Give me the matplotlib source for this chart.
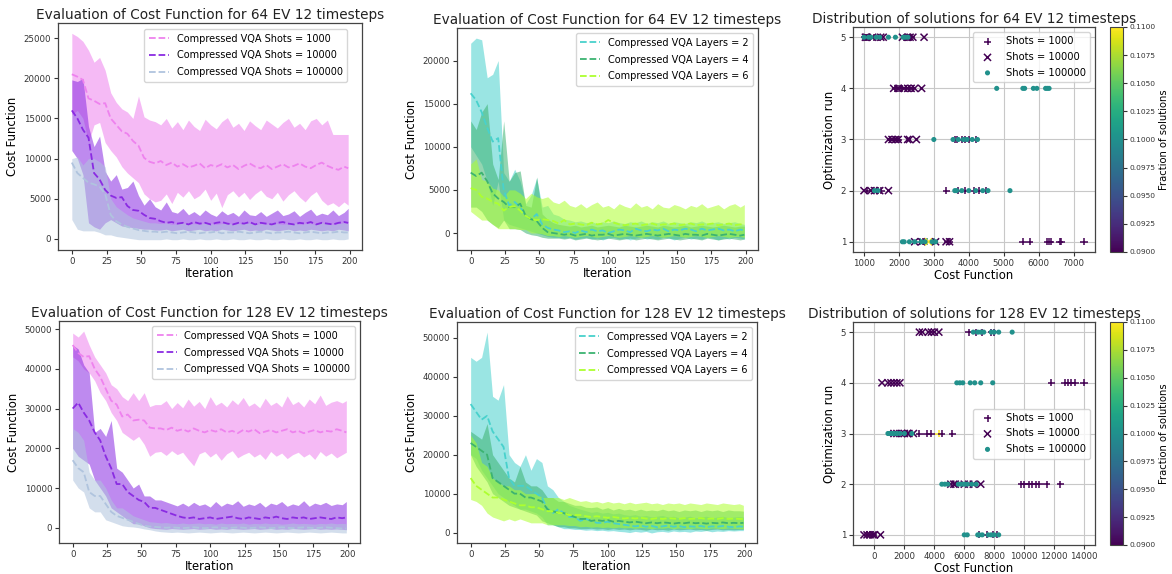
import numpy as np
import matplotlib.pyplot as plt
from matplotlib.ticker import MultipleLocator, FormatStrFormatter

W, H = 1172, 574

# iteration positions (read every 4th iteration off the plots)
iterations = list(range(0, 197, 4)) + [199]

# ---- 64 EV, shots (values in thousands) ----
ev64_s1000_mean = [20.5, 20.2, 19.8, 17.5, 17.2, 16.8, 16.9, 15.0, 14.2, 13.4, 13.1, 12.2, 11.6, 10.1, 9.6, 9.4,
                   9.7, 9.2, 9.5, 9.0, 9.3, 8.9, 9.1, 9.4, 8.8, 9.2, 9.0, 9.3, 8.9, 9.2, 8.7, 9.1, 9.4, 9.0, 8.8,
                   9.2, 8.7, 9.0, 9.3, 8.9, 9.1, 9.4, 9.0, 8.8, 9.2, 9.5, 9.1, 8.8, 8.6, 9.0, 8.8]
ev64_s1000_hi = [25.6, 25.2, 24.6, 23.5, 22.0, 22.6, 21.0, 18.2, 17.0, 16.2, 15.8, 15.0, 17.8, 15.2, 14.8, 14.6,
                 14.2, 15.0, 13.8, 14.6, 13.6, 14.8, 14.0, 13.5, 14.9, 14.2, 13.7, 14.6, 15.1, 13.9, 14.4, 13.5,
                 14.7, 14.1, 13.6, 14.8, 14.3, 13.8, 14.5, 15.0, 13.9, 14.4, 13.6, 14.7, 15.0, 14.2, 14.8, 13.0,
                 13.0, 13.0, 13.0]
ev64_s1000_lo = [15.5, 16.0, 15.0, 12.0, 14.2, 14.5, 12.0, 11.0, 10.2, 9.0, 8.2, 7.6, 7.0, 5.6, 5.0, 4.6,
                 4.8, 5.6, 4.4, 5.8, 5.2, 6.0, 5.0, 5.4, 6.2, 4.8, 5.7, 3.9, 5.5, 6.0, 5.2, 5.8, 4.9, 5.6, 6.1,
                 5.3, 5.0, 5.8, 4.7, 5.5, 6.0, 5.2, 4.6, 5.4, 5.9, 4.8, 4.2, 4.5, 4.0, 4.6, 4.2]
ev64_s10000_mean = [16.0, 15.0, 13.6, 12.6, 8.2, 7.4, 6.1, 5.4, 5.1, 5.2, 4.1, 3.6, 3.5, 3.0, 2.6, 2.5,
                    2.2, 2.0, 2.1, 1.9, 2.0, 1.8, 2.1, 1.9, 2.0, 1.8, 2.0, 2.1, 1.9, 1.8, 2.0, 1.9, 2.1, 1.8, 2.0,
                    1.9, 1.8, 2.0, 2.1, 1.9, 1.8, 2.0, 1.9, 2.1, 1.8, 2.0, 1.9, 1.8, 2.0, 2.1, 2.0]
ev64_s10000_hi = [19.8, 19.6, 20.0, 14.0, 11.5, 12.8, 8.4, 7.2, 8.0, 6.2, 6.4, 7.2, 5.4, 4.2, 5.0, 4.0,
                  3.6, 4.6, 3.4, 3.2, 3.8, 3.0, 3.4, 2.9, 3.6, 3.1, 2.8, 3.5, 3.0, 3.3, 2.8, 3.6, 3.0, 2.9, 3.4,
                  2.8, 3.2, 3.6, 2.9, 3.1, 3.5, 2.8, 3.3, 3.7, 2.9, 3.2, 3.0, 3.6, 2.9, 3.3, 3.8]
ev64_s10000_lo = [11.0, 10.0, 8.0, 2.0, 1.5, 1.2, 2.0, 2.4, 2.0, 1.6, 1.5, 1.4, 1.3, 1.2, 1.2, 1.1,
                  1.1, 1.2, 1.0, 1.1, 1.2, 1.0, 1.1, 1.2, 1.0, 1.1, 1.0, 1.2, 1.1, 1.0, 1.1, 1.2, 1.0, 1.1, 1.0,
                  1.2, 1.1, 1.0, 1.1, 1.2, 1.0, 1.1, 1.0, 1.2, 1.1, 1.0, 1.1, 1.0, 1.2, 1.1, 1.0]
ev64_s100000_mean = [9.5, 8.2, 7.6, 7.0, 6.8, 6.5, 5.6, 3.0, 2.2, 1.8, 1.5, 1.3, 1.1, 1.0, 0.9, 0.9,
                     0.8, 0.9, 0.8, 0.7, 0.8, 0.9, 0.8, 0.7, 0.8, 0.8, 0.9, 0.7, 0.8, 0.8, 0.9, 0.8, 0.7, 0.8,
                     0.9, 0.8, 0.7, 0.8, 0.8, 0.9, 0.8, 0.7, 0.8, 0.9, 0.8, 0.7, 0.8, 0.8, 0.9, 0.8, 0.8]
ev64_s100000_hi = [10.0, 10.2, 9.2, 10.0, 10.0, 9.6, 9.0, 5.0, 4.0, 3.5, 3.0, 2.6, 2.4, 2.2, 2.0, 2.0,
                   1.9, 2.0, 1.8, 1.9, 2.0, 1.8, 1.9, 1.8, 2.0, 1.9, 1.8, 1.9, 2.0, 1.8, 1.9, 1.9, 2.0, 1.8,
                   1.9, 1.8, 2.0, 1.9, 1.8, 1.9, 2.0, 1.8, 1.9, 1.9, 1.8, 2.0, 1.9, 1.8, 1.9, 2.0, 1.9]
ev64_s100000_lo = [2.4, 1.2, 1.0, 1.0, 1.0, 0.8, 0.5, 0.5, 0.3, 0.2, 0.1, 0.0, -0.1, -0.1, -0.1, -0.1,
                   -0.1, 0.0, -0.1, -0.1, 0.0, -0.1, -0.1, 0.0, -0.1, -0.1, 0.0, -0.1, -0.1, 0.0, -0.1, -0.1,
                   0.0, -0.1, -0.1, 0.0, -0.1, -0.1, 0.0, -0.1, -0.1, 0.0, -0.1, -0.1, 0.0, -0.1, -0.1, 0.0,
                   -0.1, -0.1, 0.0]

# ---- 64 EV, layers ----
ev64_l2_mean = [16.2, 15.4, 14.0, 12.2, 10.6, 11.0, 5.0, 3.2, 3.6, 3.0, 2.0, 1.6, 2.2, 1.0, 0.6, 0.4,
                0.3, 0.1, 0.2, 0.0, 0.3, 0.1, 0.4, 0.2, 0.3, 0.0, 0.2, 0.4, 0.3, 0.1, 0.5, 0.3, 0.2, 0.4, 0.3,
                0.5, 0.2, 0.4, 0.3, 0.5, 0.4, 0.2, 0.5, 0.3, 0.4, 0.5, 0.3, 0.4, 0.2, 0.4, 0.3]
ev64_l2_hi = [22.0, 22.6, 22.4, 18.0, 18.4, 20.0, 7.0, 6.0, 7.4, 6.0, 3.4, 4.4, 6.4, 3.0, 3.2, 2.2,
              2.0, 1.6, 1.5, 1.3, 1.4, 1.2, 1.3, 1.1, 1.3, 1.2, 1.4, 1.2, 1.1, 1.3, 1.2, 1.4, 1.1, 1.3, 1.2,
              1.4, 1.1, 1.3, 1.2, 1.1, 1.3, 1.2, 1.4, 1.1, 1.2, 1.3, 1.1, 1.2, 1.3, 1.1, 1.0]
ev64_l2_lo = [10.0, 9.0, 8.0, 6.0, 3.2, 6.0, 1.5, 1.0, 0.8, 0.6, 0.4, 0.2, 0.0, -0.2, -0.4, -0.5,
              -0.5, -0.6, -0.5, -0.7, -0.6, -0.5, -0.7, -0.6, -0.8, -0.6, -0.5, -0.7, -0.6, -0.8, -0.6, -0.5,
              -0.7, -0.6, -0.7, -0.5, -0.6, -0.8, -0.6, -0.5, -0.7, -0.6, -0.7, -0.5, -0.6, -0.8, -0.6, -0.7,
              -0.5, -0.6, -0.7]
ev64_l4_mean = [7.0, 6.6, 7.0, 6.0, 4.6, 4.0, 3.6, 3.0, 3.0, 3.4, 2.0, 1.6, 1.4, 0.6, 0.1, 0.0,
                -0.1, -0.2, -0.1, -0.3, -0.2, -0.1, -0.3, -0.2, -0.2, -0.1, -0.3, -0.2, -0.1, -0.2, -0.3,
                -0.2, -0.1, -0.2, -0.3, -0.2, -0.1, -0.2, -0.3, -0.1, -0.2, -0.2, -0.3, -0.1, -0.2, -0.3,
                -0.2, -0.1, -0.2, -0.3, -0.2]
ev64_l4_hi = [13.0, 12.0, 14.0, 15.0, 8.0, 6.2, 13.0, 6.0, 7.0, 7.2, 3.2, 3.0, 6.5, 2.2, 1.6, 1.2,
              1.0, 0.9, 0.8, 0.9, 0.7, 0.8, 0.9, 0.7, 0.8, 0.9, 0.8, 0.7, 0.9, 0.8, 0.7, 0.8, 0.9, 0.8, 0.7,
              0.9, 0.8, 0.7, 0.8, 0.9, 0.7, 0.8, 0.9, 0.8, 0.7, 0.8, 0.9, 0.8, 0.7, 0.8, 0.8]
ev64_l4_lo = [3.0, 3.0, 2.5, 1.5, 1.0, 0.6, 1.5, 0.5, 0.5, 0.4, 0.0, -0.2, -0.3, -0.5, -0.6, -0.6,
              -0.6, -0.7, -0.6, -0.8, -0.7, -0.6, -0.7, -0.8, -0.7, -0.6, -0.7, -0.8, -0.7, -0.6, -0.8,
              -0.7, -0.6, -0.7, -0.8, -0.7, -0.6, -0.7, -0.8, -0.7, -0.6, -0.7, -0.8, -0.6, -0.7, -0.8,
              -0.7, -0.6, -0.7, -0.8, -0.7]
ev64_l6_mean = [5.2, 5.0, 4.2, 4.0, 3.6, 3.4, 2.6, 3.0, 3.1, 2.6, 2.0, 1.6, 1.5, 1.6, 1.5, 1.4,
                1.1, 1.5, 1.0, 1.1, 1.0, 0.9, 1.2, 1.0, 1.1, 1.5, 1.2, 1.0, 0.9, 1.0, 1.1, 0.9, 1.0, 1.1,
                0.9, 1.0, 1.0, 1.1, 0.9, 1.0, 1.1, 0.9, 1.0, 1.0, 1.1, 0.9, 1.0, 1.1, 0.9, 1.0, 1.0]
ev64_l6_hi = [8.0, 8.6, 6.2, 6.0, 5.2, 5.0, 4.2, 5.0, 5.0, 4.6, 4.0, 4.6, 4.2, 4.0, 4.2, 3.6,
              3.4, 3.8, 3.2, 3.0, 3.4, 2.9, 3.3, 3.6, 3.0, 3.2, 2.8, 3.4, 3.1, 2.9, 3.5, 3.0, 3.2, 2.8, 3.4,
              3.0, 2.9, 3.3, 3.1, 2.8, 3.2, 3.0, 3.4, 2.9, 3.1, 3.3, 2.8, 3.2, 3.4, 3.0, 3.3]
ev64_l6_lo = [2.5, 2.0, 1.5, 1.5, 1.0, 0.5, 0.5, 0.5, 0.5, 0.4, 0.4, 0.0, 0.0, -0.1, -0.3, -0.3,
              -0.4, -0.3, -0.4, -0.5, -0.4, -0.3, -0.4, -0.5, -0.4, -0.3, -0.4, -0.5, -0.4, -0.3, -0.4,
              -0.5, -0.4, -0.3, -0.4, -0.5, -0.4, -0.3, -0.4, -0.5, -0.4, -0.3, -0.4, -0.5, -0.4, -0.3,
              -0.4, -0.5, -0.4, -0.4, -0.5]

# ---- 128 EV, shots ----
ev128_s1000_mean = [46.0, 44.0, 43.0, 43.2, 40.0, 38.0, 35.0, 32.0, 31.0, 28.0, 28.5, 27.0, 27.2, 27.0, 25.2, 25.0,
                    25.0, 24.6, 25.2, 24.4, 24.8, 24.2, 25.0, 24.4, 24.0, 24.6, 24.2, 24.8, 24.0, 24.4, 23.8,
                    24.6, 24.2, 24.8, 23.8, 24.2, 24.6, 24.0, 24.4, 24.8, 24.0, 24.4, 23.8, 24.2, 24.6, 24.0,
                    24.4, 24.2, 24.8, 24.4, 24.0]
ev128_s1000_hi = [49.0, 48.0, 49.5, 46.0, 43.0, 41.0, 39.0, 36.0, 35.0, 33.0, 32.0, 34.0, 32.0, 34.0, 30.5, 31.0,
                  31.0, 32.0, 30.0, 31.5, 30.2, 32.4, 30.6, 31.8, 30.0, 33.0, 30.8, 31.6, 30.4, 32.2, 31.0,
                  32.8, 30.6, 31.4, 30.2, 32.6, 30.8, 31.6, 30.4, 33.2, 31.0, 31.8, 30.4, 32.4, 31.2, 33.4,
                  30.8, 31.6, 32.0, 31.4, 32.0]
ev128_s1000_lo = [43.0, 42.0, 40.0, 39.0, 37.0, 34.0, 32.0, 29.0, 27.0, 24.0, 23.0, 22.0, 23.0, 21.0, 18.0, 19.0,
                  19.2, 18.2, 19.4, 18.4, 19.0, 17.2, 15.6, 18.6, 19.2, 17.8, 18.8, 17.0, 18.6, 19.4, 17.6,
                  18.4, 19.0, 17.8, 18.6, 17.2, 19.2, 18.0, 18.8, 17.4, 18.4, 19.0, 17.8, 18.6, 17.2, 19.2,
                  18.0, 18.8, 17.6, 18.4, 19.0]
ev128_s10000_mean = [30.0, 31.5, 29.0, 27.0, 24.0, 22.0, 18.0, 15.0, 11.0, 11.0, 9.0, 8.0, 7.0, 6.5, 5.0, 5.0,
                     4.5, 4.0, 3.5, 3.0, 2.6, 2.4, 2.6, 2.2, 2.4, 2.6, 2.2, 2.4, 2.6, 2.8, 2.4, 2.2, 2.6, 2.4,
                     2.2, 2.6, 2.4, 2.8, 2.4, 2.2, 2.6, 2.4, 2.6, 2.2, 2.4, 2.6, 2.4, 2.2, 2.6, 2.4, 2.6]
ev128_s10000_hi = [46.0, 45.0, 41.0, 39.0, 24.0, 25.0, 23.0, 27.0, 15.0, 14.0, 12.0, 10.0, 11.0, 8.0, 8.0, 7.0,
                   7.0, 6.5, 6.0, 5.5, 6.2, 5.4, 6.4, 5.6, 6.0, 5.2, 6.6, 5.4, 6.2, 5.8, 6.8, 5.4, 6.0, 5.6,
                   6.4, 5.2, 6.2, 5.8, 6.6, 5.4, 6.0, 5.6, 6.8, 5.4, 6.2, 5.8, 6.4, 5.6, 6.0, 5.8, 6.6]
ev128_s10000_lo = [20.0, 18.0, 17.0, 16.0, 12.0, 10.0, 8.0, 5.0, 4.0, 3.0, 2.0, 1.0, 1.0, 0.5, 0.0, -0.2,
                   -0.3, -0.4, -0.2, -0.3, -0.4, -0.3, -0.2, -0.4, -0.3, -0.2, -0.4, -0.3, -0.4, -0.2, -0.3,
                   -0.4, -0.3, -0.2, -0.4, -0.3, -0.2, -0.4, -0.3, -0.4, -0.2, -0.3, -0.4, -0.3, -0.2, -0.4,
                   -0.3, -0.4, -0.3, -0.4, -0.5]
ev128_s100000_mean = [17.0, 15.0, 14.0, 9.0, 8.0, 8.0, 6.0, 4.0, 3.0, 2.5, 2.0, 1.5, 1.0, 0.5, 0.3, 0.2,
                      0.1, 0.0, 0.1, 0.0, -0.1, 0.0, 0.1, 0.0, -0.1, 0.0, 0.1, 0.0, -0.1, 0.0, 0.1, 0.0, -0.1,
                      0.0, 0.1, 0.0, -0.1, 0.0, 0.1, 0.0, -0.1, 0.0, 0.1, 0.0, -0.1, 0.0, 0.1, 0.0, -0.1,
                      -0.2, -0.2]
ev128_s100000_hi = [25.0, 24.0, 22.0, 14.0, 12.0, 12.0, 10.0, 7.0, 5.0, 5.0, 4.0, 3.0, 2.5, 2.0, 1.5, 1.4,
                    1.2, 1.3, 1.1, 1.0, 1.2, 1.0, 1.1, 1.2, 1.0, 1.1, 0.9, 1.2, 1.0, 1.1, 1.0, 1.2, 0.9, 1.1,
                    1.0, 1.2, 1.0, 1.1, 0.9, 1.0, 1.2, 1.0, 1.1, 1.0, 0.9, 1.1, 1.0, 1.2, 1.0, 1.1, 1.0]
ev128_s100000_lo = [12.0, 10.0, 9.0, 5.0, 4.0, 4.0, 2.0, 1.5, 1.0, 0.5, 0.3, 0.2, 0.0, -0.3, -0.5, -0.8,
                    -1.0, -1.1, -1.2, -1.1, -1.2, -1.3, -1.2, -1.1, -1.2, -1.3, -1.2, -1.1, -1.2, -1.3, -1.2,
                    -1.1, -1.2, -1.3, -1.2, -1.1, -1.2, -1.3, -1.2, -1.1, -1.2, -1.3, -1.2, -1.1, -1.2, -1.3,
                    -1.2, -1.1, -1.2, -1.3, -1.3]

# ---- 128 EV, layers ----
ev128_l2_mean = [33.0, 31.0, 29.0, 30.0, 26.0, 24.0, 22.0, 14.0, 12.0, 12.0, 12.0, 11.0, 10.0, 9.0, 6.0, 5.0,
                 6.0, 5.0, 4.0, 4.0, 3.0, 3.5, 3.0, 2.5, 2.5, 2.8, 2.4, 2.2, 2.0, 1.8, 1.6, 1.8, 1.5, 1.7, 1.4,
                 1.6, 1.8, 1.5, 1.7, 1.4, 1.6, 1.5, 1.7, 1.4, 1.6, 1.5, 1.7, 1.5, 1.4, 1.6, 1.5]
ev128_l2_hi = [45.0, 44.0, 45.0, 51.5, 35.0, 34.0, 38.0, 20.0, 18.0, 17.0, 20.0, 16.0, 19.0, 18.0, 12.0, 11.0,
               9.0, 8.0, 7.0, 6.5, 6.0, 5.6, 5.2, 5.4, 5.0, 5.2, 4.8, 5.0, 4.6, 4.4, 4.6, 4.2, 4.4, 4.0, 4.2,
               4.4, 4.0, 4.2, 3.8, 4.0, 4.2, 3.8, 4.0, 4.2, 3.8, 4.0, 4.2, 3.8, 4.0, 4.1, 4.0]
ev128_l2_lo = [20.0, 19.0, 16.0, 14.0, 12.0, 10.0, 9.0, 8.0, 7.0, 6.0, 6.0, 5.5, 5.0, 4.0, 2.0, 2.0,
               1.5, 1.0, 1.0, 0.8, 0.8, 0.6, 0.7, 0.5, 0.6, 0.4, 0.5, 0.3, 0.2, 0.0, 0.3, 0.1, 0.3, -0.1, 0.2,
               0.3, 0.1, 0.4, 0.2, 0.3, 0.1, 0.4, 0.3, 0.5, 0.2, 0.4, 0.3, 0.5, 0.4, 0.5, 0.5]
ev128_l4_mean = [23.0, 22.0, 21.0, 20.0, 14.0, 13.0, 12.0, 11.0, 10.0, 10.0, 9.0, 9.0, 8.5, 8.0, 6.0, 5.5,
                 5.0, 5.0, 4.5, 4.0, 3.5, 3.5, 3.0, 3.2, 3.0, 3.2, 2.8, 3.0, 2.8, 2.6, 2.8, 2.6, 2.4, 2.6, 2.4,
                 2.6, 2.5, 2.3, 2.5, 2.4, 2.6, 2.4, 2.5, 2.3, 2.5, 2.4, 2.6, 2.4, 2.5, 2.4, 2.5]
ev128_l4_hi = [26.0, 25.0, 24.0, 28.0, 20.0, 18.0, 16.0, 14.0, 13.0, 17.0, 13.0, 12.0, 12.0, 11.0, 9.0, 9.0,
               8.0, 8.0, 7.5, 7.0, 7.0, 6.5, 6.4, 6.6, 6.0, 6.4, 5.8, 6.2, 5.8, 6.0, 5.6, 6.0, 5.6, 5.8, 5.6,
               6.0, 5.6, 5.8, 5.4, 5.8, 5.6, 5.8, 5.4, 5.8, 5.6, 5.8, 5.4, 5.8, 5.6, 5.6, 5.5]
ev128_l4_lo = [20.0, 17.0, 15.0, 13.0, 10.0, 9.0, 8.0, 7.0, 6.5, 6.0, 5.5, 5.0, 4.5, 3.0, 2.5, 2.0,
               1.5, 1.5, 1.2, 1.2, 1.0, 1.0, 1.1, 0.9, 1.0, 0.8, 1.0, 0.8, 0.9, 0.7, 0.9, 0.8, 0.6, 0.9, 0.7,
               0.8, 0.6, 0.9, 0.7, 0.8, 0.9, 0.7, 0.8, 0.6, 0.8, 0.9, 0.7, 0.8, 0.7, 0.8, 0.8]
ev128_l6_mean = [14.0, 12.0, 11.0, 10.0, 9.0, 9.0, 8.5, 8.0, 7.5, 7.0, 7.0, 6.5, 6.5, 6.0, 5.5, 5.5,
                 5.0, 5.0, 4.5, 4.5, 4.5, 4.2, 4.0, 4.2, 4.0, 3.8, 4.0, 3.8, 3.6, 3.8, 3.6, 3.8, 3.6, 3.5, 3.7,
                 3.5, 3.7, 3.6, 3.5, 3.7, 3.5, 3.6, 3.7, 3.5, 3.6, 3.5, 3.7, 3.5, 3.6, 3.5, 3.5]
ev128_l6_hi = [25.0, 23.0, 18.0, 17.0, 14.0, 13.0, 12.0, 12.0, 11.0, 11.0, 10.0, 10.0, 10.0, 9.0, 9.0, 9.0,
               9.0, 8.5, 9.0, 8.5, 8.0, 8.2, 7.8, 8.0, 7.6, 8.0, 7.6, 7.8, 7.4, 7.8, 7.4, 7.6, 7.8, 7.4, 7.6,
               7.2, 7.6, 7.4, 7.6, 7.2, 7.6, 7.4, 7.2, 7.6, 7.4, 7.2, 7.6, 7.4, 7.2, 7.4, 7.0]
ev128_l6_lo = [8.5, 8.0, 7.0, 5.0, 4.0, 3.5, 3.0, 3.5, 3.0, 3.5, 3.0, 2.5, 2.5, 2.5, 2.0, 2.0,
               2.0, 2.0, 1.8, 1.8, 1.5, 1.6, 1.4, 1.5, 1.3, 1.4, 1.2, 1.4, 1.2, 1.3, 1.1, 1.3, 1.2, 1.0, 1.2,
               1.1, 1.3, 1.0, 1.2, 1.1, 1.0, 1.2, 1.1, 1.0, 1.2, 1.1, 1.0, 1.2, 1.1, 1.0, 1.0]

# ---- solution distributions: cost per optimization run 1..5, and fraction of solutions ----
sol64_s1000 = [[2700, 2600, 2800, 3000, 3400, 3450, 5550, 5750, 6250, 6300, 6350, 6600, 6650, 7300],
               [1100, 1250, 1400, 1500, 3350, 3700, 3900, 4150, 4300, 4500],
               [1750, 1850, 1950, 2000, 3600, 3650, 3800, 3900, 4000, 4200],
               [1900, 1950, 2000, 2050, 2100, 2200, 2300, 2400],
               [1020, 1060, 1100, 1300, 1420, 2150, 2200, 2280, 2350]]
sol64_s1000_frac = [[0.09, 0.1, 0.1, 0.1, 0.09, 0.09, 0.09, 0.09, 0.09, 0.09, 0.09, 0.09, 0.09, 0.09],
                    [0.09, 0.09, 0.09, 0.09, 0.09, 0.09, 0.09, 0.09, 0.09, 0.09],
                    [0.09, 0.09, 0.09, 0.09, 0.09, 0.09, 0.09, 0.09, 0.09, 0.09],
                    [0.09, 0.09, 0.09, 0.09, 0.09, 0.09, 0.09, 0.09],
                    [0.09, 0.09, 0.09, 0.09, 0.09, 0.09, 0.09, 0.09, 0.09]]
sol64_s10000 = [[2450, 2650, 2850, 3050, 3350, 3450],
                [1000, 1200, 1300, 1450, 1700],
                [1700, 1800, 1900, 1980, 2250, 2300, 2500],
                [1850, 1980, 2150, 2250, 2350, 2450, 2650],
                [1040, 1080, 1250, 1480, 1550, 2100, 2250, 2320, 2400, 2720]]
sol64_s10000_frac = [[0.09, 0.09, 0.11, 0.09, 0.09, 0.09],
                     [0.09, 0.09, 0.09, 0.09, 0.09],
                     [0.09, 0.09, 0.09, 0.09, 0.09, 0.09, 0.09],
                     [0.09, 0.09, 0.09, 0.09, 0.09, 0.09, 0.09],
                     [0.09, 0.09, 0.09, 0.09, 0.09, 0.09, 0.09, 0.09, 0.09, 0.09]]
sol64_s100000 = [[2100, 2150, 2300, 2450, 2650, 2750, 2950, 3050],
                 [1300, 1400, 3600, 3650, 3800, 4000, 4200, 4400, 4550, 5180],
                 [3000, 3550, 3700, 3850, 3950, 4100, 4250],
                 [4800, 5550, 5600, 5850, 5950, 6200, 6250, 6300],
                 [1000, 1130, 1200, 1350, 1450, 1700, 1900, 2120, 2180, 2260]]
sol64_s100000_frac = [[0.1] * 8, [0.1] * 10, [0.1] * 7, [0.1] * 8, [0.1] * 10]

sol128_s1000 = [[-500, -300, -100, 7000, 7500, 7900, 8200],
                [9800, 10000, 10300, 10500, 10800, 11000, 11500, 12400],
                [3000, 3500, 3800, 4300, 4500, 5200],
                [11800, 12700, 12900, 13100, 13400, 14000],
                [6300, 6800, 7200, 7800, 8000]]
sol128_s1000_frac = [[0.09] * 7, [0.09] * 8, [0.09, 0.09, 0.09, 0.11, 0.09, 0.09], [0.09] * 6, [0.09] * 5]
sol128_s10000 = [[-700, -500, -300, -100, 0, 400],
                 [5100, 5300, 5400, 6000, 6300, 6600, 7100],
                 [1300, 1500, 1800, 2000, 2200, 2300, 2600],
                 [500, 900, 1100, 1300, 1500, 1700],
                 [3000, 3200, 3600, 3800, 4000, 4300]]
sol128_s10000_frac = [[0.09] * 6, [0.09] * 7, [0.09] * 7, [0.09] * 6, [0.09] * 6]
sol128_s100000 = [[6000, 6200, 6900, 7000, 7200, 7600, 7800, 8000, 8300],
                  [4500, 4700, 4900, 5600, 5800, 6000, 6200, 6500, 6800],
                  [900, 1000, 1100, 1200, 1300, 1500, 1700, 2000, 2500],
                  [5500, 5700, 5900, 6400, 6700, 7100, 7900],
                  [6600, 6900, 7100, 7300, 7800, 8000, 8300, 9200]]
sol128_s100000_frac = [[0.1] * 9, [0.1] * 9, [0.1] * 9, [0.1] * 7, [0.1] * 8]

shot_labels = ["Shots = 1000", "Shots = 10000", "Shots = 100000"]
layer_labels = ["Layers = 2", "Layers = 4", "Layers = 6"]


def box(l, t, r, b):
    return [l / W, 1 - b / H, (r - l) / W, (b - t) / H]


def style(ax):
    ax.tick_params(labelsize=6.2, length=3, pad=2, colors="#333333")
    for s in ax.spines.values():
        s.set_color("#444444")
        s.set_linewidth(0.9)


def cost_panel(ax, title, series, legend_kw):
    for label, color, mean, lo, hi in series:
        ax.fill_between(iterations, np.array(lo) * 1000, np.array(hi) * 1000,
                        color=color, alpha=0.55, linewidth=0)
        ax.plot(iterations, np.array(mean) * 1000, "--", color=color, linewidth=1.3,
                label="Compressed VQA " + label)
    ax.set_title(title, fontsize=9.8, pad=3, color="#222222")
    ax.set_xlabel("Iteration", fontsize=8.4, labelpad=1)
    ax.set_ylabel("Cost Function", fontsize=8.4, labelpad=3)
    ax.xaxis.set_major_locator(MultipleLocator(25))
    style(ax)
    ax.legend(fontsize=7, handlelength=2, borderpad=0.5, labelspacing=0.7, **legend_kw)


def dist_panel(ax, cax, title, groups, legend_loc):
    markers = ["+", "x", "."]
    for (costs, fracs), marker, label in zip(groups, markers, shot_labels):
        xs, ys, cs = [], [], []
        for run, (c_run, f_run) in enumerate(zip(costs, fracs), start=1):
            xs += c_run
            ys += [run] * len(c_run)
            cs += f_run
        sc = ax.scatter(xs, ys, c=cs, cmap="viridis", vmin=0.09, vmax=0.11,
                        marker=marker, s=26, linewidths=1.1, label=label, zorder=3)
    ax.grid(True, color="#c8c8c8", linewidth=0.8)
    ax.set_axisbelow(True)
    ax.set_yticks([1, 2, 3, 4, 5])
    ax.set_title(title, fontsize=9.8, pad=3, color="#222222")
    ax.set_xlabel("Cost Function", fontsize=8.4, labelpad=1)
    ax.set_ylabel("Optimization run", fontsize=8.4, labelpad=3)
    style(ax)
    ax.legend(fontsize=7.2, loc=legend_loc, borderpad=0.45, labelspacing=0.55)
    cb = fig.colorbar(sc, cax=cax)
    cb.set_ticks(np.arange(0.09, 0.11001, 0.0025))
    cb.ax.yaxis.set_major_formatter(FormatStrFormatter("%.4f"))
    cb.ax.tick_params(labelsize=5.4, length=3, pad=2, colors="#333333")
    cb.set_label("Fraction of solutions", fontsize=7.2, labelpad=2)
    cb.outline.set_edgecolor("#444444")


fig = plt.figure(figsize=(W / 100, H / 100), dpi=100)

ax1 = fig.add_axes(box(58, 23, 362, 250))
cost_panel(ax1, "Evaluation of Cost Function for 64 EV 12 timesteps",
           [(shot_labels[0], "violet", ev64_s1000_mean, ev64_s1000_lo, ev64_s1000_hi),
            (shot_labels[1], "blueviolet", ev64_s10000_mean, ev64_s10000_lo, ev64_s10000_hi),
            (shot_labels[2], "lightsteelblue", ev64_s100000_mean, ev64_s100000_lo, ev64_s100000_hi)],
           dict(loc="upper right", bbox_to_anchor=(0.952, 0.975), borderaxespad=0))

ax2 = fig.add_axes(box(457, 28, 758, 250))
cost_panel(ax2, "Evaluation of Cost Function for 64 EV 12 timesteps",
           [(layer_labels[0], "mediumturquoise", ev64_l2_mean, ev64_l2_lo, ev64_l2_hi),
            (layer_labels[1], "mediumseagreen", ev64_l4_mean, ev64_l4_lo, ev64_l4_hi),
            (layer_labels[2], "greenyellow", ev64_l6_mean, ev64_l6_lo, ev64_l6_hi)],
           dict(loc="upper right"))

ax3 = fig.add_axes(box(853, 27, 1095, 252))
cax3 = fig.add_axes(box(1110, 27, 1123, 252))
dist_panel(ax3, cax3, "Distribution of solutions for 64 EV 12 timesteps",
           [(sol64_s1000, sol64_s1000_frac), (sol64_s10000, sol64_s10000_frac),
            (sol64_s100000, sol64_s100000_frac)], "upper right")

ax4 = fig.add_axes(box(59, 321, 360, 543))
cost_panel(ax4, "Evaluation of Cost Function for 128 EV 12 timesteps",
           [(shot_labels[0], "violet", ev128_s1000_mean, ev128_s1000_lo, ev128_s1000_hi),
            (shot_labels[1], "blueviolet", ev128_s10000_mean, ev128_s10000_lo, ev128_s10000_hi),
            (shot_labels[2], "lightsteelblue", ev128_s100000_mean, ev128_s100000_lo, ev128_s100000_hi)],
           dict(loc="upper right"))

ax5 = fig.add_axes(box(457, 322, 757, 543))
cost_panel(ax5, "Evaluation of Cost Function for 128 EV 12 timesteps",
           [(layer_labels[0], "mediumturquoise", ev128_l2_mean, ev128_l2_lo, ev128_l2_hi),
            (layer_labels[1], "mediumseagreen", ev128_l4_mean, ev128_l4_lo, ev128_l4_hi),
            (layer_labels[2], "greenyellow", ev128_l6_mean, ev128_l6_lo, ev128_l6_hi)],
           dict(loc="upper right"))

ax6 = fig.add_axes(box(853, 322, 1095, 545))
cax6 = fig.add_axes(box(1110, 322, 1123, 545))
dist_panel(ax6, cax6, "Distribution of solutions for 128 EV 12 timesteps",
           [(sol128_s1000, sol128_s1000_frac), (sol128_s10000, sol128_s10000_frac),
            (sol128_s100000, sol128_s100000_frac)], "center right")

fig.savefig("out.png", dpi=100)
